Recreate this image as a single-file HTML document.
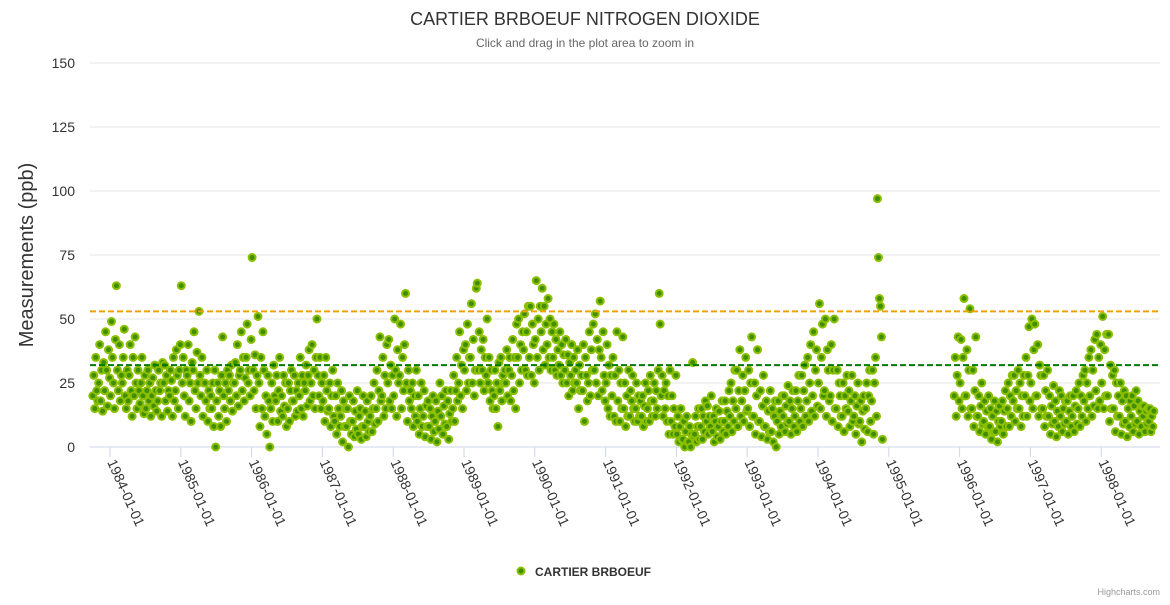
<!DOCTYPE html>
<html><head><meta charset="utf-8"><style>
body{margin:0;background:#fff;font-family:"Liberation Sans",sans-serif;}
svg text{font-family:"Liberation Sans",sans-serif;}
</style></head><body>
<svg id="chart" width="1170" height="600" viewBox="0 0 1170 600">
<text x="585" y="25" text-anchor="middle" font-size="18" fill="#333">CARTIER BRBOEUF NITROGEN DIOXIDE</text>
<text x="585" y="47" text-anchor="middle" font-size="12" fill="#666">Click and drag in the plot area to zoom in</text>
<text transform="translate(33,255) rotate(-90)" text-anchor="middle" font-size="20" fill="#333">Measurements (ppb)</text>
<g id="grid"></g><g id="xaxis"></g><g id="pts"></g><g id="refs"></g>
<circle cx="521" cy="571" r="3.5" fill="#3f8f00" stroke="#8cbf00" stroke-width="2"/>
<text x="535" y="576" font-size="12" font-weight="bold" fill="#333">CARTIER BRBOEUF</text>
<text x="1160" y="595" text-anchor="end" font-size="9" fill="#999">Highcharts.com</text>
</svg>
<script>
const yTicks=[0,25,50,75,100,125,150];
const xTickYears=[1984,1985,1986,1987,1988,1989,1990,1991,1992,1993,1994,1995,1996,1997,1998];
const refLines=[53,32];
const startYear=1983, startMonth=10;
const monthly=[
[20,28,15,35,22,18],[25,40,18,30,14,33],[22,45,30,16,38,27],
[20,49,35,25,15,42],[63,30,22,40,18,28],[25,35,46,20,15,30],[18,28,40,22,12,35],[20,43,25,15,30,22],[17,25,35,20,13,28],[15,22,30,18,25,12],[20,27,16,32,22,14],[18,30,22,25,12,33],[25,32,18,28,14,22],[20,30,26,12,35,18],[22,38,28,15,30,40],
[63,25,35,20,12,30],[28,40,18,25,10,33],[30,45,22,15,37,25],[53,28,20,35,12,25],[25,18,30,10,22,15],[20,15,25,8,30,0],[18,25,12,22,8,28],[43,20,15,25,10,30],[22,28,18,32,14,25],[25,33,20,40,16,28],[30,45,22,35,18,27],[35,48,25,30,20,42],
[74,30,22,36,15,28],[51,25,8,35,15,45],[30,12,20,5,28,18],[0,15,25,10,32,20],[18,28,10,22,35,14],[20,12,28,16,25,8],[15,25,10,22,30,18],[18,28,12,22,14,25],[20,35,15,28,12,25],[22,32,16,28,38,18],[25,40,20,30,15,35],[50,28,20,35,15,25],
[18,28,10,35,22,14],[15,25,8,20,30,12],[10,20,5,25,15,8],[12,22,2,18,8,15],[8,15,0,20,10,5],[10,18,4,14,7,22],[5,12,15,3,8,20],[8,14,4,18,10,6],[12,20,6,15,25,9],[15,30,10,22,43,18],[20,35,12,28,15,40],[25,42,18,32,15,28],
[20,50,30,12,38,25],[28,48,15,35,22,40],[60,25,10,30,18,22],[15,25,8,20,12,30],[10,20,5,15,25,8],[12,22,4,16,8,18],[8,15,3,12,20,6],[10,18,2,14,7,25],[12,20,5,16,9,22],[8,18,3,13,22,10],[15,28,10,22,35,18],[25,45,20,32,15,38],
[30,40,22,48,25,35],[35,56,25,42,20,30],[62,64,30,45,25,38],[30,42,22,35,28,50],[25,35,18,30,22,15],[20,30,15,25,8,33],[22,35,18,28,25,30],[25,38,20,30,35,18],[28,42,22,35,15,48],[35,50,25,40,30,45],[38,52,30,45,28,55],[35,55,28,48,40,25],
[42,65,35,50,30,55],[45,62,38,55,32,48],[40,58,35,50,30,45],[35,48,30,42,28,38],[32,45,28,40,25,36],[30,42,25,36,20,33],[28,40,22,35,25,30],[25,38,15,32,22,28],[22,40,10,35,28,18],[25,45,20,38,30,48],[30,52,25,42,20,38],[57,35,22,45,28,18],
[25,40,15,32,12,28],[20,35,12,28,10,45],[18,30,10,25,15,43],[15,25,8,20,12,30],[12,22,18,28,15,10],[15,25,10,20,12,18],[12,20,8,16,25,10],[15,22,10,28,18,12],[18,25,12,22,15,30],[60,48,20,28,12,22],[15,25,10,20,5,30],[10,20,5,15,8,28],
[5,12,2,8,15,3],[3,10,0,6,12,2],[2,8,0,5,33,4],[5,12,2,8,15,3],[8,15,3,12,6,18],[10,16,5,12,8,20],[6,12,2,10,15,4],[8,14,3,10,18,6],[10,18,5,14,8,22],[12,25,6,18,10,30],[15,30,8,22,38,12],[18,28,10,22,35,14],
[15,30,8,25,43,12],[12,25,5,20,38,10],[10,22,4,16,28,8],[8,18,3,14,6,22],[6,15,2,12,18,0],[10,18,5,14,8,20],[12,20,6,16,9,24],[10,18,5,15,22,8],[12,22,6,18,28,10],[15,28,8,22,32,12],[18,35,10,25,40,14],[20,45,12,30,38,16],
[25,56,15,35,48,20],[22,50,12,38,30,18],[20,40,10,30,50,15],[15,30,8,25,20,12],[12,25,6,20,15,28],[14,22,8,18,28,10],[12,20,5,16,25,9],[10,18,2,14,20,7],[15,25,6,20,30,10],[18,30,5,25,35,12],[97,74,58,55,43,3],[],
[],[],[],[],[],[],[],[],[],[],[],[20,35,12,28,43,18],
[25,42,15,35,58,20],[20,38,12,30,54,15],[15,30,8,22,43,12],[12,20,6,16,25,9],[10,18,5,14,8,20],[8,15,3,12,6,18],[6,14,2,10,16,8],[10,18,5,14,22,8],[15,25,8,20,12,28],[18,28,10,22,15,30],[15,25,8,20,12,28],[20,35,12,28,47,18],
[25,50,15,38,48,20],[20,40,12,32,28,15],[15,28,8,22,12,30],[12,20,5,16,9,24],[10,18,4,14,8,22],[12,20,6,15,9,18],[10,18,5,14,20,8],[12,20,6,16,22,9],[15,25,8,20,12,28],[18,30,10,25,15,35],[20,38,12,30,16,42],[22,44,15,35,18,40],
[25,51,15,38,20,44],[20,44,10,32,15,28],[15,30,6,25,12,20],[12,25,5,18,9,22],[10,20,4,15,8,18],[12,20,6,16,9,22],[10,18,5,14,8,16],[12,16,6,14,9,15],[10,15,6,12,8,14]
];
const NS='http://www.w3.org/2000/svg';
const yS=v=>447-v*2.56;
const xS=t=>110+(t-1984)*70.8;
function mk(tag,attrs,parent){const e=document.createElementNS(NS,tag);for(const k in attrs)e.setAttribute(k,attrs[k]);parent.appendChild(e);return e;}
const grid=document.getElementById('grid');
yTicks.forEach(v=>{
 const l=mk('line',{x1:90,x2:1160,y1:yS(v),y2:yS(v),stroke:v===0?'#ccd6eb':'#e6e6e6','stroke-width':1},grid);
 
 
 const t=mk('text',{x:75,y:yS(v)+5,'text-anchor':'end','font-size':14,fill:'#333'},grid);
 t.textContent=v;
 
 
});
const xa=document.getElementById('xaxis');
xTickYears.forEach(y=>{
 const x=xS(y);
 const tk=mk('line',{x1:x,x2:x,y1:447,y2:457,stroke:'#ccd6eb'},xa);
 
 
 const t=mk('text',{transform:`translate(${x-3},462) rotate(66)`,'font-size':14,fill:'#333'},xa);
 t.textContent=y+'-01-01';
 
 
});
const pts=document.getElementById('pts');
monthly.forEach((vals,mi)=>{
 const t0=startYear+(startMonth-1+mi)/12;
 vals.forEach((v,i)=>{
  const t=t0+(i+0.5)/vals.length/12;
  const c=mk('circle',{cx:xS(t),cy:yS(v),r:3.5,fill:'#3f8f00',stroke:'#8cbf00','stroke-width':2},pts);
  
  
 });
});
const refs=document.getElementById('refs');
const refColors=['#f0a000','#007a00'];
refLines.forEach((v,i)=>{
 const l=mk('line',{x1:90,x2:1160,y1:yS(v),y2:yS(v),stroke:refColors[i],'stroke-width':2,'stroke-dasharray':'6,3'},refs);
 
 
});
</script>
</body></html>
